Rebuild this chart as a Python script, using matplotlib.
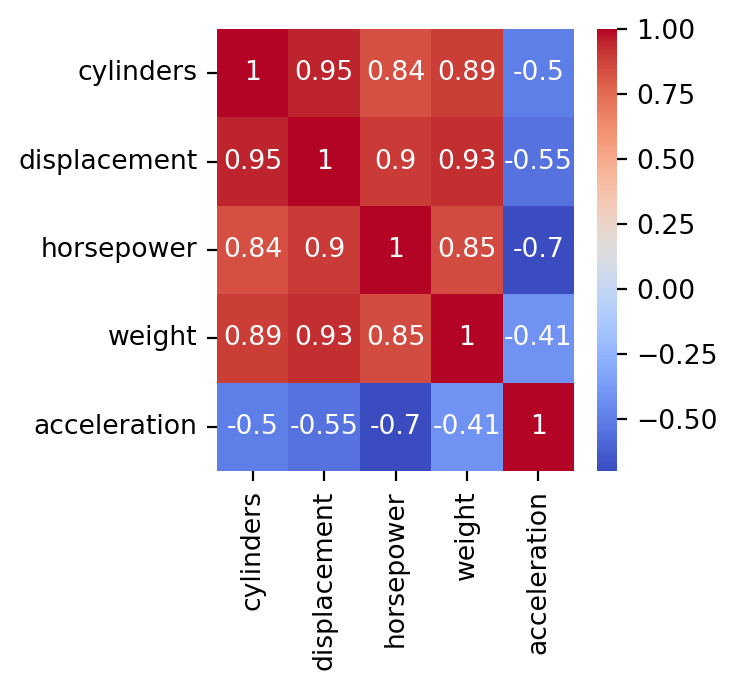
import matplotlib
matplotlib.use("Agg")
import matplotlib.pyplot as plt
import seaborn as sns
import numpy as np
import pandas as pd

labels = ["cylinders", "displacement", "horsepower", "weight", "acceleration"]
row_cyl = [1.0, 0.95, 0.84, 0.89, -0.50]
row_disp = [0.95, 1.0, 0.90, 0.93, -0.55]
row_hp = [0.84, 0.90, 1.0, 0.85, -0.70]
row_wt = [0.89, 0.93, 0.85, 1.0, -0.41]
row_acc = [-0.50, -0.55, -0.70, -0.41, 1.0]

corr = pd.DataFrame([row_cyl, row_disp, row_hp, row_wt, row_acc], index=labels, columns=labels)

plt.rcParams["font.size"] = 9.6
plt.rcParams["xtick.labelsize"] = 9.6
plt.rcParams["ytick.labelsize"] = 9.6
fig = plt.figure(figsize=(3.69, 3.445), dpi=200)
top, bottom = 29, 471
ax = fig.add_axes([217/738, 1 - bottom/689, (574-217)/738, (bottom-top)/689])
cax = fig.add_axes([597/738, 1 - bottom/689, 20/738, (bottom-top)/689])
sns.heatmap(corr, annot=True, cmap="coolwarm", ax=ax, cbar_ax=cax)
fig.savefig("out.png", dpi=200)
